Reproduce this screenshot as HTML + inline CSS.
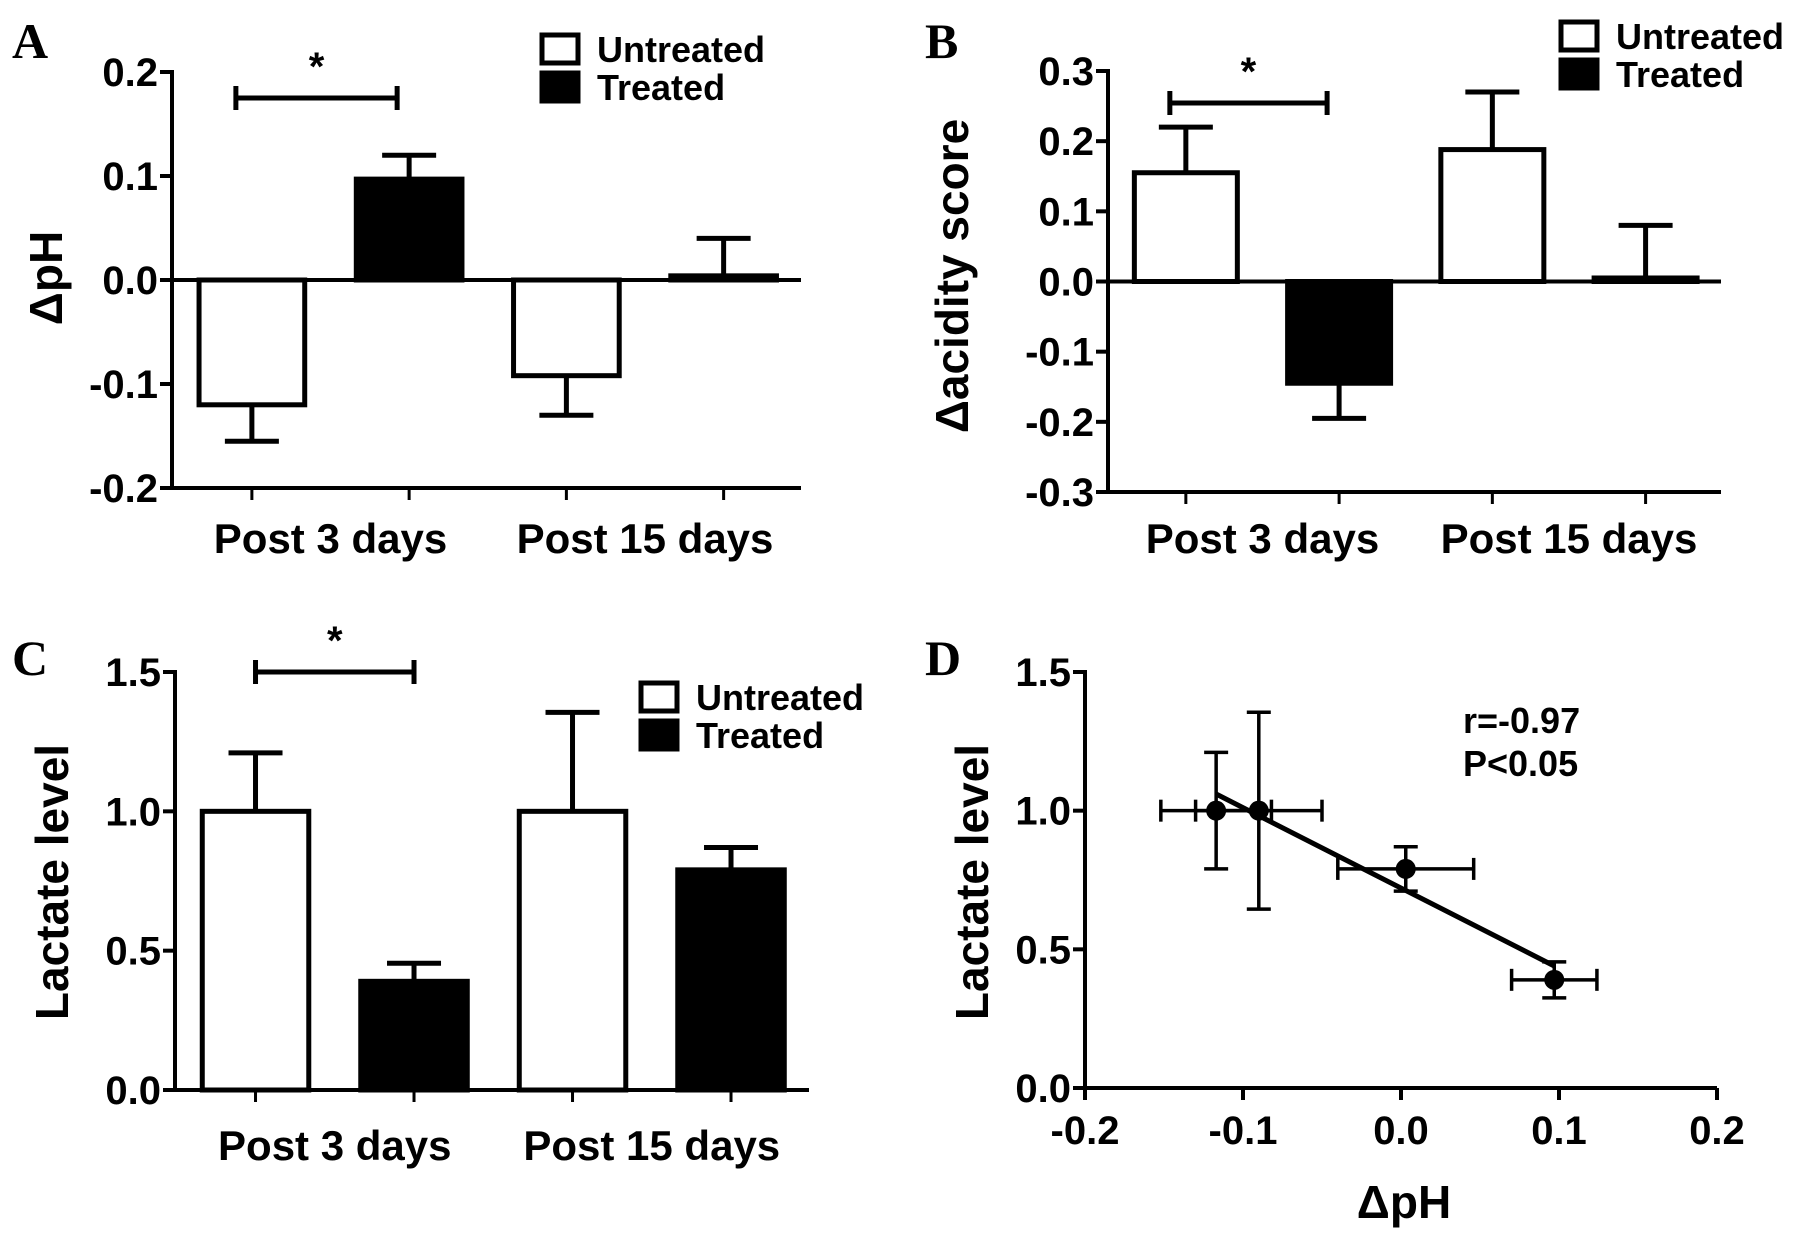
<!DOCTYPE html>
<html><head><meta charset="utf-8"><style>
html,body{margin:0;padding:0;background:#fff;}
svg{display:block;}
text{font-family:"Liberation Sans",Arial,sans-serif;font-weight:bold;fill:#000;}
.letter{font-family:"Liberation Serif",serif;font-weight:bold;font-size:50px;}
</style></head><body>
<svg id="fig" width="1795" height="1243" viewBox="0 0 1795 1243" xmlns="http://www.w3.org/2000/svg"></svg>
<script>
const groups = ["Post 3 days", "Post 15 days"];
const aUntreated = [-0.12, -0.092];
const aUntreatedErr = [0.035, 0.038];
const aTreated = [0.097, 0.004];
const aTreatedErr = [0.023, 0.036];
const aTicks = [-0.2, -0.1, 0.0, 0.1, 0.2];
const aTickLabels = ["-0.2", "-0.1", "0.0", "0.1", "0.2"];

const bUntreated = [0.155, 0.188];
const bUntreatedErr = [0.065, 0.082];
const bTreated = [-0.145, 0.005];
const bTreatedErr = [0.05, 0.075];
const bTicks = [-0.3, -0.2, -0.1, 0.0, 0.1, 0.2, 0.3];
const bTickLabels = ["-0.3", "-0.2", "-0.1", "0.0", "0.1", "0.2", "0.3"];

const cUntreated = [1.0, 1.0];
const cUntreatedErr = [0.21, 0.355];
const cTreated = [0.39, 0.79];
const cTreatedErr = [0.065, 0.08];
const cTicks = [0.0, 0.5, 1.0, 1.5];
const cTickLabels = ["0.0", "0.5", "1.0", "1.5"];

const dX = [-0.117, -0.09, 0.003, 0.097];
const dY = [1.0, 1.0, 0.79, 0.39];
const dXErr = [0.035, 0.04, 0.043, 0.027];
const dYErr = [0.21, 0.355, 0.08, 0.065];
const dXTicks = [-0.2, -0.1, 0.0, 0.1, 0.2];
const dXTickLabels = ["-0.2", "-0.1", "0.0", "0.1", "0.2"];
const dYTicks = [0.0, 0.5, 1.0, 1.5];
const dYTickLabels = ["0.0", "0.5", "1.0", "1.5"];
const dFit = [[-0.117, 1.06], [0.097, 0.44]];

const NS = "http://www.w3.org/2000/svg";
const svg = document.getElementById("fig");
function el(tag, attrs, parent, text) {
  const e = document.createElementNS(NS, tag);
  for (const k in attrs) e.setAttribute(k, attrs[k]);
  if (text !== undefined) e.textContent = text;
  (parent || svg).appendChild(e);
  return e;
}
function line(g, x1, y1, x2, y2, w) {
  return el("line", {x1, y1, x2, y2, stroke: "#000", "stroke-width": w || 4}, g);
}
function linScale(d0, d1, r0, r1) { return v => r0 + (v - d0) * (r1 - r0) / (d1 - d0); }

function yAxis(g, x, ys, ticks, labels, y0, y1) {
  const ax = line(g, x, y0, x, y1);
  
  
  ticks.forEach((t, i) => {
    line(g, x - 12, ys(t), x, ys(t));
    const tx = el("text", {x: x - 14, y: ys(t) + 14, "text-anchor": "end", "font-size": 40}, g, labels[i]);
    
    
  });
}

function barPanel(cfg) {
  const g = el("g", {});
  
  
  const ys = linScale(cfg.ymin, cfg.ymax, cfg.yBottom, cfg.yTop);
  const W = cfg.xEnd - cfg.x0;
  const bw = W * 0.168;
  yAxis(g, cfg.x0, ys, cfg.ticks, cfg.tickLabels, cfg.yTop - 2, cfg.yBottom + 2);
  const bx = line(g, cfg.x0, cfg.yBottom, cfg.xEnd, cfg.yBottom);
  
  
  if (cfg.ymin < 0) {
    const z = line(g, cfg.x0, ys(0), cfg.xEnd, ys(0));
    
    
  }
  const series = [[cfg.u, cfg.ue, "#fff"], [cfg.t, cfg.te, "#000"]];
  const centers = [];
  groups.forEach((grp, gi) => {
    series.forEach((s, si) => {
      const slot = gi * 2 + si;
      const cx = cfg.x0 + W * (0.127 + 0.25 * slot);
      centers.push(cx);
      const v = s[0][gi], e = s[1][gi];
      const base = cfg.ymin < 0 ? ys(0) : ys(cfg.ymin);
      const y1 = Math.min(ys(v), base), y2 = Math.max(ys(v), base);
      const r = el("rect", {x: cx - bw / 2, y: y1, width: bw, height: Math.max(y2 - y1, 2), fill: s[2], stroke: "#000", "stroke-width": 5}, g);
      
      
      const ve = v >= 0 ? v + e : v - e;
      const eg = el("g", {}, g);
      
      
      line(eg, cx, ys(v), cx, ys(ve), 5);
      line(eg, cx - 27, ys(ve), cx + 27, ys(ve), 5);
    });
    const lab = el("text", {x: (cfg.x0 + W * (0.127 + 0.5 * gi) + cfg.x0 + W * (0.377 + 0.5 * gi)) / 2, y: cfg.labelY, "text-anchor": "middle", "font-size": 42}, g, grp);
    
    
  });
  centers.forEach(cx => line(g, cx, cfg.yBottom, cx, cfg.yBottom + 12, 3));
  const sg = el("g", {}, g);
  
  
  const s1 = centers[0] + cfg.sigOff[0], s2 = centers[1] + cfg.sigOff[1];
  line(sg, s1, cfg.sigY, s2, cfg.sigY, 5);
  line(sg, s1, cfg.sigY - 12, s1, cfg.sigY + 12, 5);
  line(sg, s2, cfg.sigY - 12, s2, cfg.sigY + 12, 5);
  el("text", {x: (s1 + s2) / 2, y: cfg.sigY - 18, "text-anchor": "middle", "font-size": 40}, sg, "*");
  const lg = el("g", {}, g);
  
  
  [["Untreated", "#fff"], ["Treated", "#000"]].forEach((L, i) => {
    const y = cfg.legY + i * 38;
    el("rect", {x: cfg.legX, y: y, width: 36, height: 28, fill: L[1], stroke: "#000", "stroke-width": 5}, lg);
    const t = el("text", {x: cfg.legX + 55, y: y + 27, "font-size": 36}, lg, L[0]);
    
    
  });
  const yt = el("text", {x: cfg.titleX, y: cfg.titleY, "text-anchor": "middle", "font-size": 46, transform: `rotate(-90 ${cfg.titleX} ${cfg.titleY})`}, g, cfg.title);
  
  
  const lt = el("text", {x: cfg.letterX, y: cfg.letterY, class: "letter"}, g, cfg.letter);
  
  
}

barPanel({name: "panel-a", x0: 172, xEnd: 801, ymin: -0.2, ymax: 0.2, yTop: 72, yBottom: 488,
  ticks: aTicks, tickLabels: aTickLabels, u: aUntreated, ue: aUntreatedErr, t: aTreated, te: aTreatedErr,
  labelY: 553, sigY: 98, sigOff: [-16, -12], legX: 542, legY: 35, titleX: 62, titleY: 278, title: "\u0394pH", letter: "A", letterX: 12, letterY: 58});
barPanel({name: "panel-b", x0: 1108, xEnd: 1721, ymin: -0.3, ymax: 0.3, yTop: 71, yBottom: 492,
  ticks: bTicks, tickLabels: bTickLabels, u: bUntreated, ue: bUntreatedErr, t: bTreated, te: bTreatedErr,
  labelY: 553, sigY: 103, sigOff: [-16, -12], legX: 1561, legY: 22, titleX: 968, titleY: 276, title: "\u0394acidity score", letter: "B", letterX: 925, letterY: 58});
barPanel({name: "panel-c", x0: 175, xEnd: 809, ymin: 0, ymax: 1.5, yTop: 672, yBottom: 1090,
  ticks: cTicks, tickLabels: cTickLabels, u: cUntreated, ue: cUntreatedErr, t: cTreated, te: cTreatedErr,
  labelY: 1160, sigY: 672, sigOff: [0, 0], legX: 641, legY: 683, titleX: 68, titleY: 882, title: "Lactate level", letter: "C", letterX: 12, letterY: 675});

(function () {
  const g = el("g", {});
  
  
  const x0 = 1085, x1 = 1717, yT = 672, yB = 1088;
  const xs = linScale(-0.2, 0.2, x0, x1);
  const ys = linScale(0, 1.5, yB, yT);
  yAxis(g, x0, ys, dYTicks, dYTickLabels, yT - 2, yB + 2);
  const ax = line(g, x0 - 2, yB, x1, yB);
  
  
  dXTicks.forEach((t, i) => {
    line(g, xs(t), yB, xs(t), yB + 12);
    const tx = el("text", {x: xs(t), y: yB + 56, "text-anchor": "middle", "font-size": 40}, g, dXTickLabels[i]);
    
    
  });
  const fit = line(g, xs(dFit[0][0]), ys(dFit[0][1]), xs(dFit[1][0]), ys(dFit[1][1]), 5);
  
  
  dX.forEach((xv, i) => {
    const pg = el("g", {}, g);
    
    
    const cx = xs(xv), cy = ys(dY[i]);
    const xa = xs(xv - dXErr[i]), xb = xs(xv + dXErr[i]);
    const ya = ys(dY[i] - dYErr[i]), yb = ys(dY[i] + dYErr[i]);
    line(pg, xa, cy, xb, cy, 3.5);
    line(pg, xa, cy - 11, xa, cy + 11, 3.5);
    line(pg, xb, cy - 11, xb, cy + 11, 3.5);
    line(pg, cx, ya, cx, yb, 3.5);
    line(pg, cx - 12, ya, cx + 12, ya, 3.5);
    line(pg, cx - 12, yb, cx + 12, yb, 3.5);
    el("circle", {cx, cy, r: 10, fill: "#000"}, pg);
  });
  const r = el("text", {x: 1463, y: 733, "font-size": 36}, g, "r=-0.97");
  
  
  const p = el("text", {x: 1463, y: 776, "font-size": 36}, g, "P<0.05");
  
  
  const xt = el("text", {x: 1404, y: 1218, "text-anchor": "middle", "font-size": 46}, g, "\u0394pH");
  
  
  const yt = el("text", {x: 988, y: 882, "text-anchor": "middle", "font-size": 46, transform: "rotate(-90 988 882)"}, g, "Lactate level");
  
  
  const lt = el("text", {x: 925, y: 675, class: "letter"}, g, "D");
  
  
})();
</script>
</body></html>
